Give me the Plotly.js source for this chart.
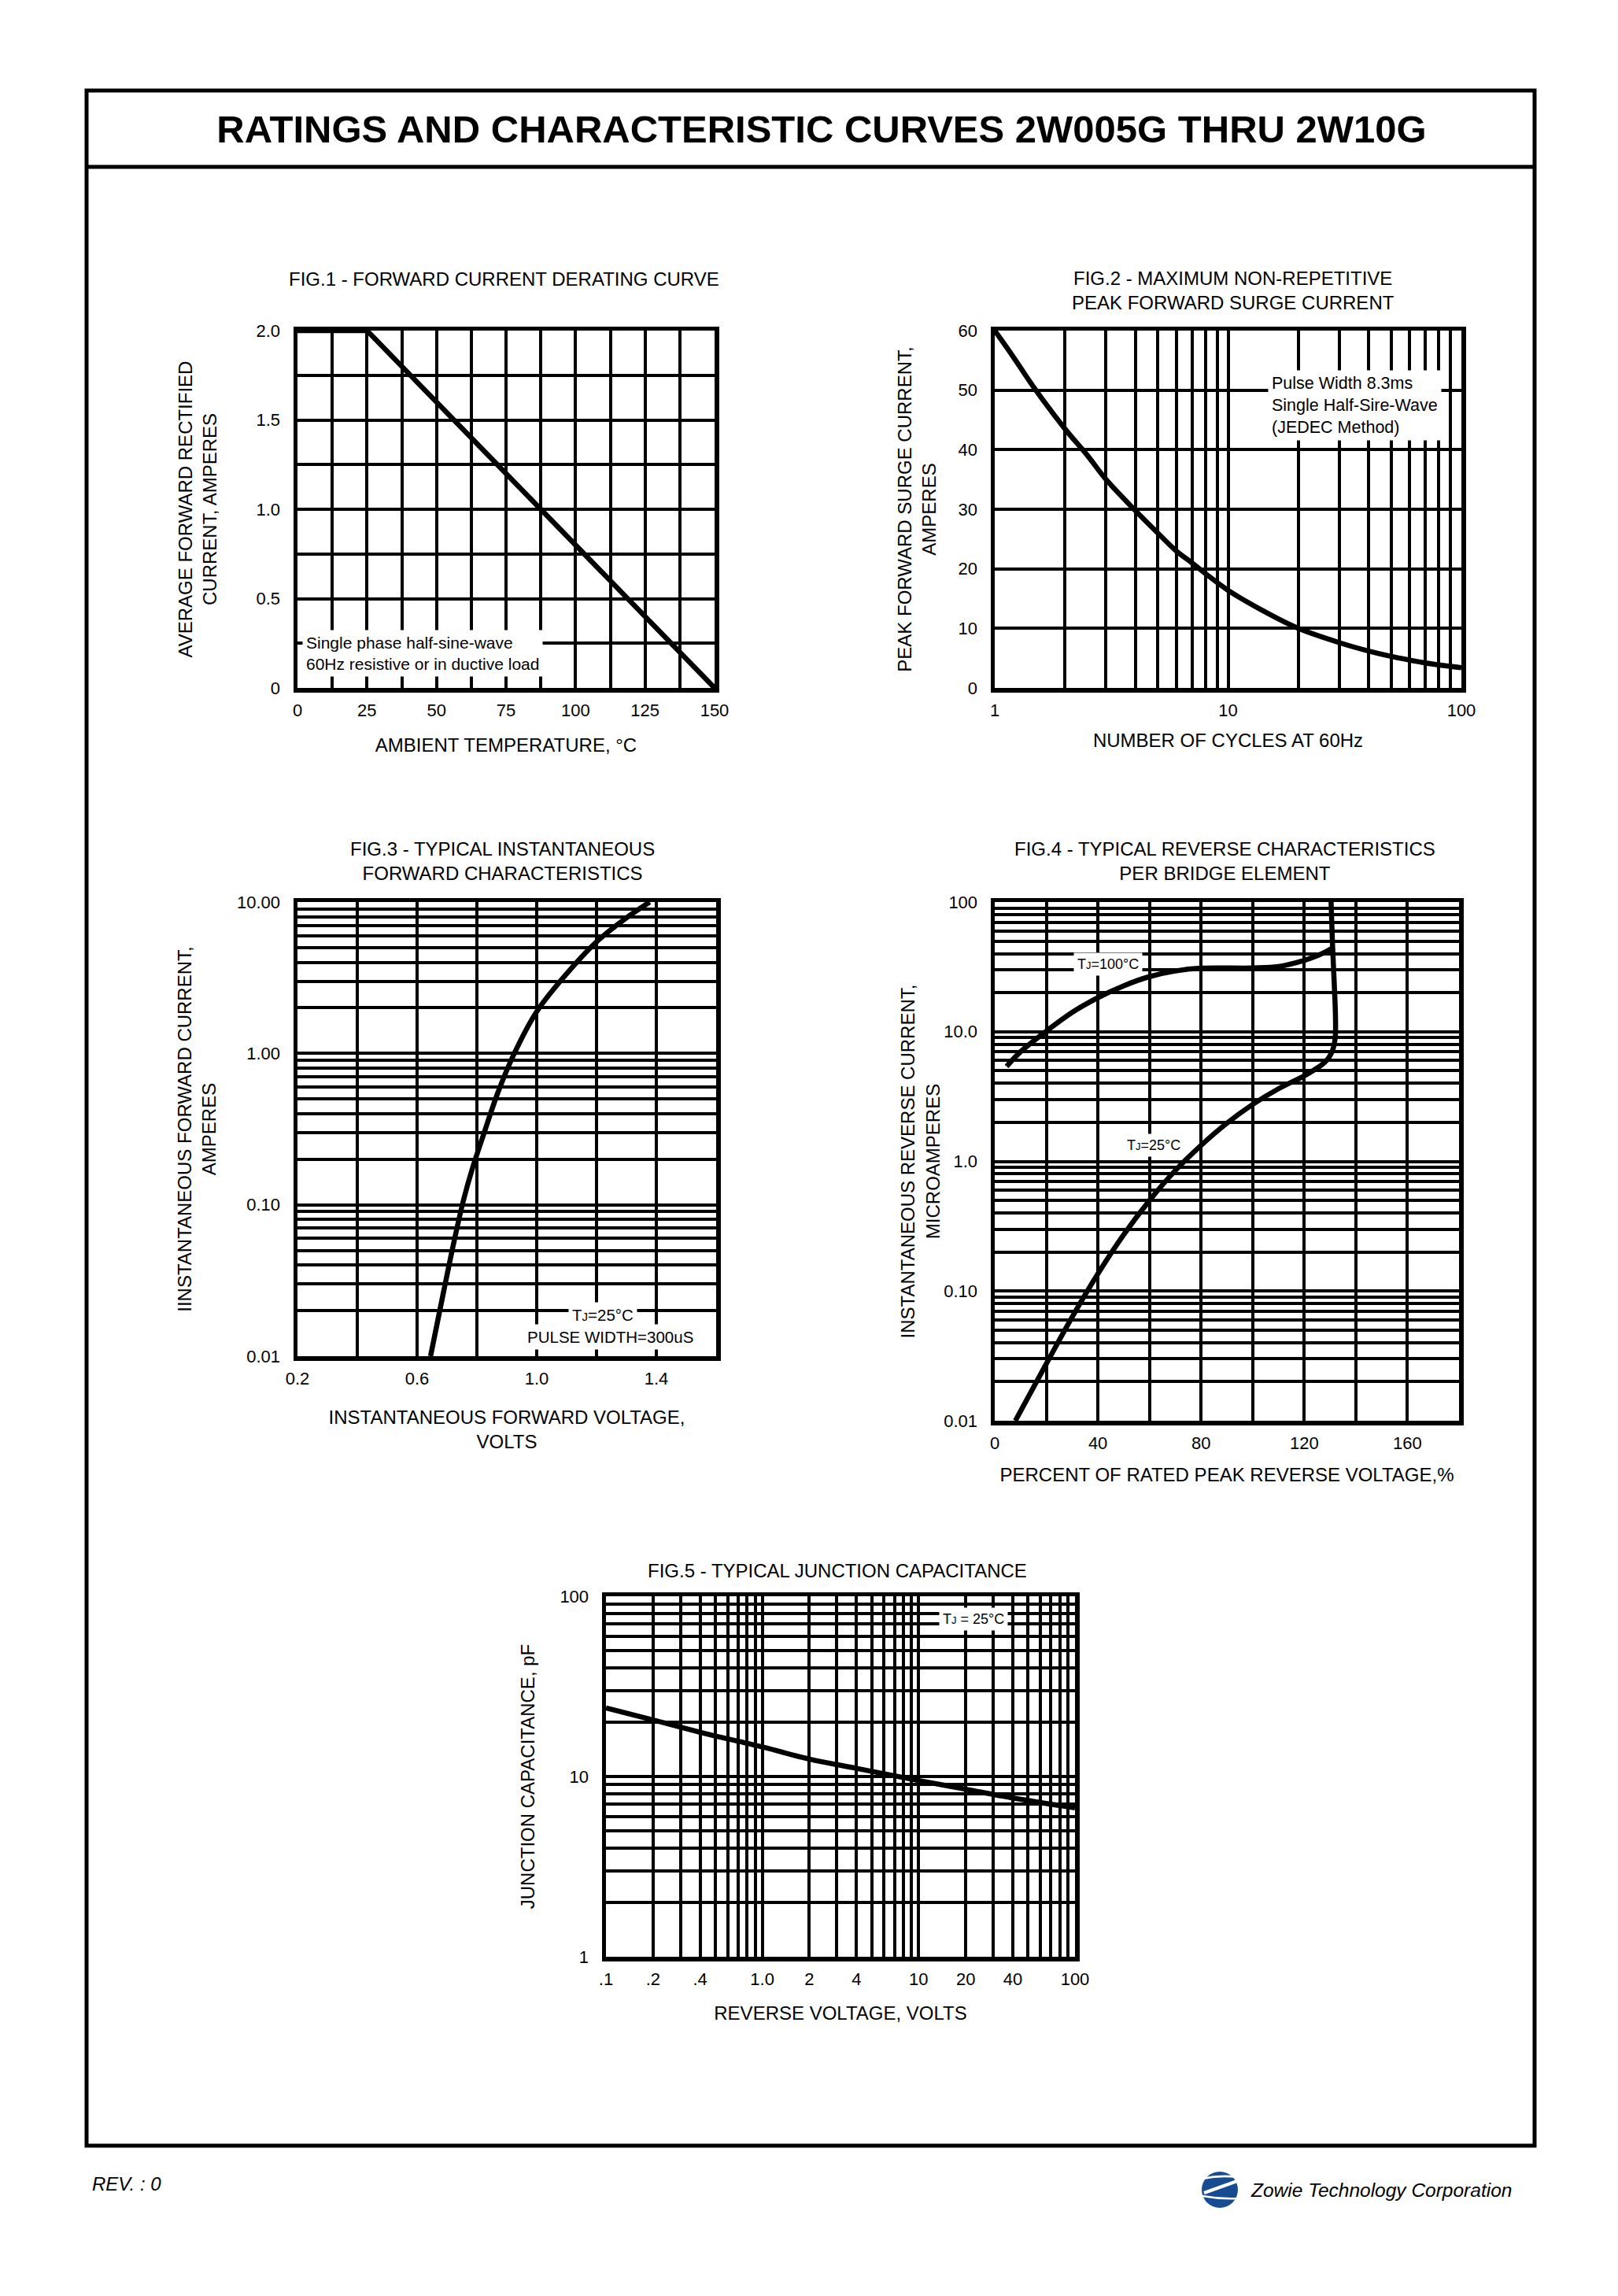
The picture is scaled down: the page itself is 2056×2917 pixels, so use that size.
<!DOCTYPE html>
<html><head><meta charset="utf-8">
<script src="https://cdn.plot.ly/plotly-3.0.1.min.js"></script>
<style>html,body{margin:0;padding:0;background:#fff}#chart{width:2056px;height:2917px}</style>
</head><body><div id="chart"></div>
<script>
// ---------------- DATA ----------------
// Fig.1 forward current derating
const fig1Temp = [0, 25, 150];
const fig1Current = [2.0, 2.0, 0];
const fig1XTickVals = [0, 25, 50, 75, 100, 125, 150];
const fig1XTickText = ['0', '25', '50', '75', '100', '125', '150'];
const fig1XGrid = [0, 12.5, 25, 37.5, 50, 62.5, 75, 87.5, 100, 112.5, 125, 137.5, 150];
const fig1YTickVals = [0, 0.5, 1.0, 1.5, 2.0];
const fig1YTickText = ['0', '0.5', '1.0', '1.5', '2.0'];
const fig1YGrid = [0, 0.25, 0.5, 0.75, 1.0, 1.25, 1.5, 1.75, 2.0];

// Fig.2 peak forward surge current
const fig2Cycles = [1, 1.2, 1.5, 2, 2.5, 3, 4, 5, 6, 7, 8, 10, 15, 20, 30, 40, 50, 70, 100];
const fig2Surge = [60, 55.6, 50, 43.5, 39, 35, 29.8, 26, 23, 21, 19.2, 16.4, 12.4, 10, 7.6, 6.2, 5.3, 4.2, 3.4];
const fig2XTickVals = [1, 10, 100];
const fig2XTickText = ['1', '10', '100'];
const fig2XGrid = [1, 2, 3, 4, 5, 6, 7, 8, 9, 10, 20, 30, 40, 50, 60, 70, 80, 90, 100];
const fig2YTickVals = [0, 10, 20, 30, 40, 50, 60];
const fig2YTickText = ['0', '10', '20', '30', '40', '50', '60'];

// Fig.3 forward characteristics
const fig3Voltage = [0.645, 0.69, 0.725, 0.755, 0.785, 0.82, 0.87, 0.925, 1.00, 1.10, 1.20, 1.30, 1.378];
const fig3Current = [0.01, 0.0275, 0.059, 0.107, 0.174, 0.282, 0.55, 1.0, 1.89, 3.36, 5.46, 7.86, 10];
const fig3XTickVals = [0.2, 0.6, 1.0, 1.4];
const fig3XTickText = ['0.2', '0.6', '1.0', '1.4'];
const fig3XGrid = [0.2, 0.4, 0.6, 0.8, 1.0, 1.2, 1.4, 1.6];
const fig3YTickVals = [0.01, 0.1, 1, 10];
const fig3YTickText = ['0.01', '0.10', '1.00', '10.00'];
const fig3YGrid = [0.01, 0.02, 0.03, 0.04, 0.05, 0.06, 0.07, 0.08, 0.09,
  0.1, 0.2, 0.3, 0.4, 0.5, 0.6, 0.7, 0.8, 0.9, 1, 2, 3, 4, 5, 6, 7, 8, 9, 10];

// Fig.4 reverse characteristics
const fig4T100Pct = [4.6, 10, 20, 30, 40, 50, 60, 70, 80, 100, 110, 120, 125, 128.5, 130.7];
const fig4T100Cur = [5.4, 7.0, 10.1, 14.1, 18.3, 22.6, 26.6, 29.4, 30.9, 31, 31.8, 35.5, 38.5, 41.5, 44];
const fig4T25Pct = [8, 20, 30, 40, 50, 60, 70, 80, 90, 100, 110, 120, 124, 127, 129.5, 131.2, 132, 132.1, 131.6, 130.9, 130.4];
const fig4T25Cur = [0.01, 0.0275, 0.063, 0.136, 0.272, 0.50, 0.85, 1.33, 1.97, 2.75, 3.63, 4.57, 5.1, 5.6, 6.3, 7.4, 9, 13, 24, 50, 100];
const fig4XTickVals = [0, 40, 80, 120, 160];
const fig4XTickText = ['0', '40', '80', '120', '160'];
const fig4XGrid = [0, 20, 40, 60, 80, 100, 120, 140, 160, 180];
const fig4YTickVals = [0.01, 0.1, 1, 10, 100];
const fig4YTickText = ['0.01', '0.10', '1.0', '10.0', '100'];
const fig4YGrid = [0.01, 0.02, 0.03, 0.04, 0.05, 0.06, 0.07, 0.08, 0.09,
  0.1, 0.2, 0.3, 0.4, 0.5, 0.6, 0.7, 0.8, 0.9, 1, 2, 3, 4, 5, 6, 7, 8, 9,
  10, 20, 30, 40, 50, 60, 70, 80, 90, 100];

// Fig.5 junction capacitance
const fig5Voltage = [0.1, 0.2, 0.4, 1, 2, 4, 10, 20, 40, 100];
const fig5Cap = [24, 20.6, 17.6, 14.6, 12.5, 11.1, 9.5, 8.5, 7.6, 6.7];
const fig5XTickVals = [0.1, 0.2, 0.4, 1, 2, 4, 10, 20, 40, 100];
const fig5XTickText = ['.1', '.2', '.4', '1.0', '2', '4', '10', '20', '40', '100'];
const fig5XGrid = [0.1, 0.2, 0.3, 0.4, 0.5, 0.6, 0.7, 0.8, 0.9,
  1, 2, 3, 4, 5, 6, 7, 8, 9, 10, 20, 30, 40, 50, 60, 70, 80, 90, 100];
const fig5YTickVals = [1, 10, 100];
const fig5YTickText = ['1', '10', '100'];
const fig5YGrid = [1, 2, 3, 4, 5, 6, 7, 8, 9, 10, 20, 30, 40, 50, 60, 70, 80, 90, 100];

// ---------------- LAYOUT HELPERS ----------------
const W = 2056, H = 2917;
const FONT = 'Liberation Sans, Arial, Helvetica, sans-serif';
const px = v => v / W;
const py = v => 1 - v / H;
const dom = (a, b) => [a / W, b / W];
const domY = (top, bottom) => [1 - bottom / H, 1 - top / H];

function ax(extra, grid, standoff) {
  return Object.assign({
    showline: true, mirror: true, linecolor: '#000', linewidth: 5.5,
    showgrid: true, gridcolor: '#000', gridwidth: 4, zeroline: false,
    ticks: '', tickmode: 'array', ticklabelstandoff: standoff,
    tickfont: {family: FONT, size: 22, color: '#000'},
    minor: {tickmode: 'array', tickvals: grid, showgrid: true, gridcolor: '#000', gridwidth: 4, ticks: ''},
    fixedrange: true, automargin: false
  }, extra);
}
function ttl(text, standoff) {
  return {text: text, standoff: standoff, font: {family: FONT, size: 24, color: '#000'}};
}
const lineStyle = {color: '#000', width: 6.5};
const splineStyle = {color: '#000', width: 6.5, shape: 'spline', smoothing: 1};

const traces = [
  {x: fig1Temp, y: fig1Current, xaxis: 'x', yaxis: 'y', mode: 'lines', line: lineStyle, hoverinfo: 'skip'},
  {x: fig2Cycles, y: fig2Surge, xaxis: 'x2', yaxis: 'y2', mode: 'lines', line: splineStyle, hoverinfo: 'skip'},
  {x: fig3Voltage, y: fig3Current, xaxis: 'x3', yaxis: 'y3', mode: 'lines', line: splineStyle, hoverinfo: 'skip'},
  {x: fig4T100Pct, y: fig4T100Cur, xaxis: 'x4', yaxis: 'y4', mode: 'lines', line: splineStyle, hoverinfo: 'skip'},
  {x: fig4T25Pct, y: fig4T25Cur, xaxis: 'x4', yaxis: 'y4', mode: 'lines', line: splineStyle, hoverinfo: 'skip'},
  {x: fig5Voltage, y: fig5Cap, xaxis: 'x5', yaxis: 'y5', mode: 'lines', line: splineStyle, hoverinfo: 'skip'}
];

function note(text, xref, yref, x, y, size, xanchor, align) {
  return {text: text, xref: xref, yref: yref, x: x, y: y, showarrow: false,
    xanchor: xanchor || 'center', yanchor: 'middle', align: align || 'center',
    bgcolor: '#fff', borderpad: 4, font: {family: FONT, size: size, color: '#000'}};
}
function ptext(text, x, y, size, xanchor) {
  return {text: text, xref: 'paper', yref: 'paper', x: px(x), y: py(y), showarrow: false,
    xanchor: xanchor || 'center', yanchor: 'middle', align: 'center',
    font: {family: FONT, size: size, color: '#000'}};
}
const tj = size => "T<span style='font-size:" + size + "px'>J</span>";

const annotations = [
  ptext('FIG.1 - FORWARD CURRENT DERATING CURVE', 640, 355, 24),
  ptext('FIG.2 - MAXIMUM NON-REPETITIVE<br>PEAK FORWARD SURGE CURRENT', 1567, 369, 24),
  ptext('FIG.3 - TYPICAL INSTANTANEOUS<br>FORWARD CHARACTERISTICS', 638, 1094, 24),
  ptext('FIG.4 - TYPICAL REVERSE CHARACTERISTICS<br>PER BRIDGE ELEMENT', 1556, 1094, 24),
  ptext('FIG.5 - TYPICAL JUNCTION CAPACITANCE', 1064, 1995, 24),
  note('Single phase half-sine-wave<br>60Hz resistive or in ductive load', 'x', 'y', 1.6, 0.195, 21, 'left', 'left'),
  note('Pulse Width 8.3ms<br>Single Half-Sire-Wave<br>(JEDEC Method)', 'x2', 'y2', Math.log10(14.8), 47.5, 21.5, 'left', 'left'),
  note(tj(15) + '=25°C', 'x3', 'y3', 1.22, Math.log10(0.0187), 20.5),
  note('PULSE WIDTH=300uS', 'x3', 'y3', 1.245, Math.log10(0.0134), 20.5),
  note(tj(13) + '=100°C', 'x4', 'y4', 44, Math.log10(33), 18),
  note(tj(13) + '=25°C', 'x4', 'y4', 61.7, Math.log10(1.33), 18),
  note(tj(13) + ' = 25°C', 'x5', 'y5', Math.log10(22.5), Math.log10(75), 18),
  ptext('<i>REV. : 0</i>', 115, 2774, 24, 'left'),
  ptext('<i>Zowie Technology Corporation</i>', 1587, 2782, 24.5, 'left')
];

const shapes = [
  {type: 'rect', xref: 'paper', yref: 'paper', x0: px(110), x1: px(1950), y0: py(115), y1: py(2726), line: {color: '#000', width: 5}},
  {type: 'line', xref: 'paper', yref: 'paper', x0: px(110), x1: px(1950), y0: py(212), y1: py(212), line: {color: '#000', width: 5}},
  // logo
  {type: 'circle', xref: 'paper', yref: 'paper', x0: px(1527), x1: px(1573), y0: py(2759), y1: py(2805), fillcolor: '#174c93', line: {width: 0}},
  {type: 'path', xref: 'paper', yref: 'paper', path: 'M' + px(1528) + ',' + py(2768) + ' Q' + px(1550) + ',' + py(2763) + ' ' + px(1573) + ',' + py(2766), line: {color: '#fff', width: 2.5}},
  {type: 'path', xref: 'paper', yref: 'paper', path: 'M' + px(1572) + ',' + py(2771) + ' L' + px(1530) + ',' + py(2786), line: {color: '#fff', width: 4}},
  {type: 'path', xref: 'paper', yref: 'paper', path: 'M' + px(1528) + ',' + py(2790) + ' Q' + px(1550) + ',' + py(2794) + ' ' + px(1573) + ',' + py(2793), line: {color: '#fff', width: 2.5}}
];

const layout = {
  width: W, height: H,
  margin: {l: 0, r: 0, t: 0, b: 0, pad: 0},
  paper_bgcolor: '#fff', plot_bgcolor: '#fff',
  showlegend: false,
  font: {family: FONT, color: '#000'},
  title: {text: '<b>RATINGS AND CHARACTERISTIC CURVES 2W005G THRU 2W10G</b>',
    font: {family: FONT, size: 49, color: '#000'},
    x: px(1044), xanchor: 'center', xref: 'paper', y: py(164), yanchor: 'middle', yref: 'paper'},
  xaxis: ax({domain: dom(378, 908), anchor: 'y', range: [0, 150], tickvals: fig1XTickVals, ticktext: fig1XTickText,
    title: ttl('AMBIENT TEMPERATURE, °C', 26)}, fig1XGrid, 4),
  yaxis: ax({domain: domY(420, 874), anchor: 'x', range: [0, 2], tickvals: fig1YTickVals, ticktext: fig1YTickText,
    title: ttl('AVERAGE FORWARD RECTIFIED<br>CURRENT, AMPERES', 45)}, fig1YGrid, 12),
  xaxis2: ax({domain: dom(1264, 1857), anchor: 'y2', type: 'log', range: [0, 2], tickvals: fig2XTickVals, ticktext: fig2XTickText,
    title: ttl('NUMBER OF CYCLES AT 60Hz', 20)}, fig2XGrid, 4),
  yaxis2: ax({domain: domY(420, 874), anchor: 'x2', range: [0, 60], tickvals: fig2YTickVals, ticktext: fig2YTickText,
    title: ttl('PEAK FORWARD SURGE CURRENT,<br>AMPERES', 23)}, fig2YTickVals, 12),
  xaxis3: ax({domain: dom(378, 910), anchor: 'y3', range: [0.2, 1.6], tickvals: fig3XTickVals, ticktext: fig3XTickText,
    title: ttl('INSTANTANEOUS FORWARD VOLTAGE,<br>VOLTS', 31)}, fig3XGrid, 4),
  yaxis3: ax({domain: domY(1146, 1723), anchor: 'x3', type: 'log', range: [-2, 1], tickvals: fig3YTickVals, ticktext: fig3YTickText,
    title: ttl('IINSTANTANEOUS FORWARD CURRENT,<br>AMPERES', 21)}, fig3YGrid, 12),
  xaxis4: ax({domain: dom(1264, 1854), anchor: 'y4', range: [0, 180], tickvals: fig4XTickVals, ticktext: fig4XTickText,
    title: ttl('PERCENT OF RATED PEAK REVERSE VOLTAGE,%', 22)}, fig4XGrid, 4),
  yaxis4: ax({domain: domY(1146, 1805), anchor: 'x4', type: 'log', range: [-2, 2], tickvals: fig4YTickVals, ticktext: fig4YTickText,
    title: ttl('INSTANTANEOUS REVERSE CURRENT,<br>MICROAMPERES', 0)}, fig4YGrid, 12),
  xaxis5: ax({domain: dom(770, 1366), anchor: 'y5', type: 'log', range: [-1, 2], tickvals: fig5XTickVals, ticktext: fig5XTickText,
    title: ttl('REVERSE VOLTAGE, VOLTS', 25)}, fig5XGrid, 4),
  yaxis5: ax({domain: domY(2028, 2486), anchor: 'x5', type: 'log', range: [0, 2], tickvals: fig5YTickVals, ticktext: fig5YTickText,
    title: ttl('JUNCTION CAPACITANCE, pF', 27)}, fig5YGrid, 12),
  annotations: annotations,
  shapes: shapes
};

Plotly.newPlot('chart', traces, layout, {staticPlot: true, displayModeBar: false});
</script>
</body></html>
